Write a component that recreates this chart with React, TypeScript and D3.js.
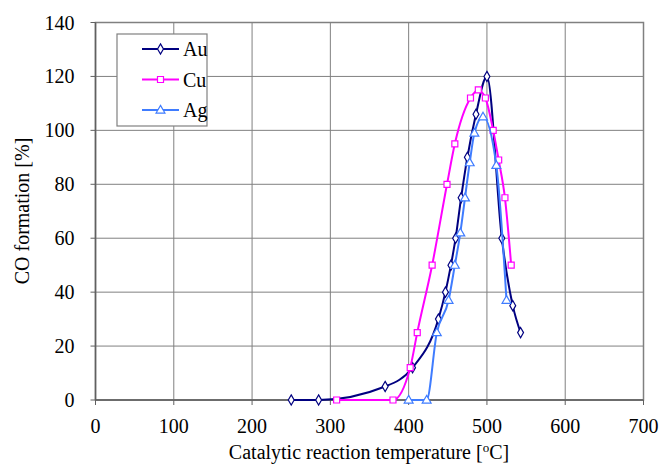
import React from 'react';
import * as d3 from 'd3';

const auData: [number, number][] = [
  [250, 0], [285, 0], [370, 5], [405, 12], [438, 30], [447, 40], [454, 50],
  [460, 60], [467, 75], [475, 90], [486, 106], [500, 120], [519, 60], [533, 35], [543, 25],
];
const cuData: [number, number][] = [
  [308, 0], [380, 0], [402, 12], [411, 25], [430, 50], [449, 80], [459, 95],
  [479, 112], [489, 115], [498, 112], [508, 100], [515, 89], [523, 75], [531, 50],
];
const agData: [number, number][] = [
  [400, 0], [423, 0], [436, 25], [451, 37], [459, 50], [466, 62], [472, 75],
  [478, 88], [484, 99], [495, 105], [512, 87], [525, 37],
];
const xTicks = [0, 100, 200, 300, 400, 500, 600, 700];
const yTicks = [0, 20, 40, 60, 80, 100, 120, 140];

const series = [
  { name: 'Au', data: auData, color: '#000080', marker: 'diamond' },
  { name: 'Cu', data: cuData, color: '#ff00ff', marker: 'square' },
  { name: 'Ag', data: agData, color: '#3f7cff', marker: 'triangle' },
];

const font = 'Liberation Serif';

function Marker({ type, x, y, color }: { type: string; x: number; y: number; color: string }) {
  const sym =
    type === 'diamond' ? d3.symbolDiamond : type === 'square' ? d3.symbolSquare : d3.symbolTriangle;
  const size = type === 'diamond' ? 30 : type === 'square' ? 36 : 34;
  const path = d3.symbol(sym, size)()!;
  return (
    <path d={path} transform={`translate(${x},${y + (type === 'triangle' ? 0.5 : 0)})`}
      fill="#fff" stroke={color} strokeWidth={1.2} />
  );
}

export default function App() {
  const left = 95.5, right = 643.5, top = 22.5, bottom = 400;
  const x = d3.scaleLinear().domain([0, 700]).range([left, right]);
  const y = d3.scaleLinear().domain([0, 140]).range([bottom, top]);
  const line = d3.line<[number, number]>()
    .x(d => x(d[0])).y(d => y(d[1]))
    .curve(d3.curveMonotoneX);

  return (
    <svg width={664} height={464} style={{ position: 'absolute', left: 0, top: 0 }}>
      <rect width={664} height={464} fill="#fff" />
      {xTicks.map(t => (
        <line key={'gx' + t} x1={x(t)} x2={x(t)} y1={top} y2={bottom} stroke="#808080" strokeWidth={1} />
      ))}
      {yTicks.map(t => (
        <line key={'gy' + t} x1={left} x2={right} y1={y(t)} y2={y(t)} stroke="#808080" strokeWidth={1} />
      ))}
      <rect x={left} y={top} width={right - left} height={bottom - top} fill="none" stroke="#808080" strokeWidth={1.5} />
      <line x1={left} x2={left} y1={top} y2={bottom} stroke="#606060" strokeWidth={1.5} />
      <line x1={left} x2={right} y1={bottom} y2={bottom} stroke="#606060" strokeWidth={1.5} />
      {yTicks.map(t => (
        <g key={'yt' + t}>
          <line x1={left - 5} x2={left} y1={y(t)} y2={y(t)} stroke="#606060" strokeWidth={1} />
          <text x={left - 21} y={y(t)} dy="0.35em" textAnchor="end" fontSize={20} fontFamily={font}>{t}</text>
        </g>
      ))}
      {xTicks.map(t => (
        <g key={'xt' + t}>
          <line x1={x(t)} x2={x(t)} y1={bottom} y2={bottom + 5} stroke="#606060" strokeWidth={1} />
          <text x={x(t)} y={433} textAnchor="middle" fontSize={20} fontFamily={font}>{t}</text>
        </g>
      ))}
      <text x={369} y={459} textAnchor="middle" fontSize={20} fontFamily={font}>
        Catalytic reaction temperature [<tspan fontSize={13} dy={-7}>o</tspan><tspan dy={7}>C]</tspan>
      </text>
      <text transform="translate(29,211) rotate(-90)" textAnchor="middle" fontSize={20} fontFamily={font}>CO formation [%]</text>

      {series.map(s => (
        <g key={s.name}>
          <path d={line(s.data)!} fill="none" stroke={s.color} strokeWidth={2} />
          {s.data.map((d, i) => (
            <Marker key={i} type={s.marker} x={x(d[0])} y={y(d[1])} color={s.color} />
          ))}
        </g>
      ))}

      <rect x={117} y={34} width={90} height={92} fill="#fff" stroke="#808080" strokeWidth={1.2} />
      {series.map((s, i) => {
        const ly = 49 + i * 30.5;
        return (
          <g key={'lg' + s.name}>
            <line x1={142} x2={179} y1={ly} y2={ly} stroke={s.color} strokeWidth={2} />
            <Marker type={s.marker} x={160.5} y={ly} color={s.color} />
            <text x={183} y={ly} dy="0.35em" fontSize={20} fontFamily={font}>{s.name}</text>
          </g>
        );
      })}
    </svg>
  );
}
